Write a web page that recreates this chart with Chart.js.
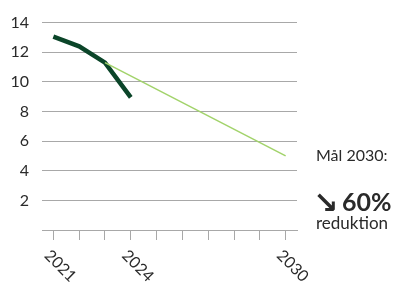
<!DOCTYPE html>
<html>
<head>
<meta charset="utf-8">
<script src="https://cdn.jsdelivr.net/npm/chart.js@4"></script>
<style>
  html, body { margin: 0; padding: 0; background: #fff; }
  #wrap { width: 401px; height: 285px; position: relative; }
</style>
</head>
<body>
<div id="wrap"><canvas id="myChart" width="401" height="285"></canvas></div>
<script>
// data
const years = [2021, 2022, 2023, 2024];
const actual = [13.05, 12.4, 11.3, 8.95];
const targetYears = [2023, 2030];
const target = [11.3, 5.0];
const xLabelYears = [2021, 2024, 2030];
const yMin = 0, yMax = 14, yStep = 2;

const textColor = "#2a2a2a";
const gridColor = "#a8a8a8";
const fontFamily = "Lato, 'Noto Sans', sans-serif";

// rotated year labels + the target note on the right
const extras = {
  id: "extras",
  afterDraw(chart) {
    const c = chart.ctx;
    const x = chart.scales.x;
    c.save();
    c.fillStyle = textColor;
    c.font = "16px " + fontFamily;
    xLabelYears.forEach((yr) => {
      c.save();
      c.translate(x.getPixelForValue(yr) + 7, 266);
      c.rotate(Math.PI / 4);
      c.textAlign = "center";
      c.textBaseline = "middle";
      c.fillText(String(yr), 0, 0);
      c.restore();
    });

    c.textAlign = "left";
    c.textBaseline = "alphabetic";
    c.font = "16px " + fontFamily;
    c.fillText("Mål 2030:", 316, 161);
    c.font = "bold 30px 'DejaVu Sans', sans-serif";
    c.fillText("\u2198", 313, 213);
    c.font = "bold 25px " + fontFamily;
    c.fillText("60%", 342, 211);
    c.font = "17px " + fontFamily;
    c.fillText("reduktion", 316, 229);
    c.restore();
  }
};

const ctx = document.getElementById("myChart");
new Chart(ctx, {
  type: "line",
  data: {
    datasets: [
      {
        label: "Target",
        data: targetYears.map((yr, i) => ({ x: yr, y: target[i] })),
        borderColor: "#a2d36b",
        borderWidth: 1.5,
        pointRadius: 0,
        tension: 0
      },
      {
        label: "Actual",
        data: years.map((yr, i) => ({ x: yr, y: actual[i] })),
        borderColor: "#0b4529",
        borderWidth: 4.5,
        pointRadius: 0,
        tension: 0
      }
    ]
  },
  options: {
    responsive: false,
    animation: false,
    layout: { padding: { top: 20, right: 104, left: 0, bottom: 0 } },
    plugins: { legend: { display: false }, tooltip: { enabled: false } },
    scales: {
      x: {
        type: "linear",
        min: 2020.56,
        max: 2030.44,
        afterFit: (s) => { s.height = 55; },
        border: { display: true, color: gridColor, width: 1 },
        grid: { drawOnChartArea: false, drawTicks: true, tickLength: 10, color: gridColor },
        ticks: { stepSize: 1, includeBounds: false, display: false }
      },
      y: {
        min: yMin,
        max: yMax,
        afterFit: (s) => { s.width = 42; },
        border: { display: false },
        grid: { drawTicks: false, color: gridColor, lineWidth: 1 },
        ticks: {
          stepSize: yStep,
          padding: 13,
          color: textColor,
          font: { family: fontFamily, size: 16 },
          callback: (v) => (v === 0 ? "" : v)
        }
      }
    }
  },
  plugins: [extras]
});
</script>
</body>
</html>
